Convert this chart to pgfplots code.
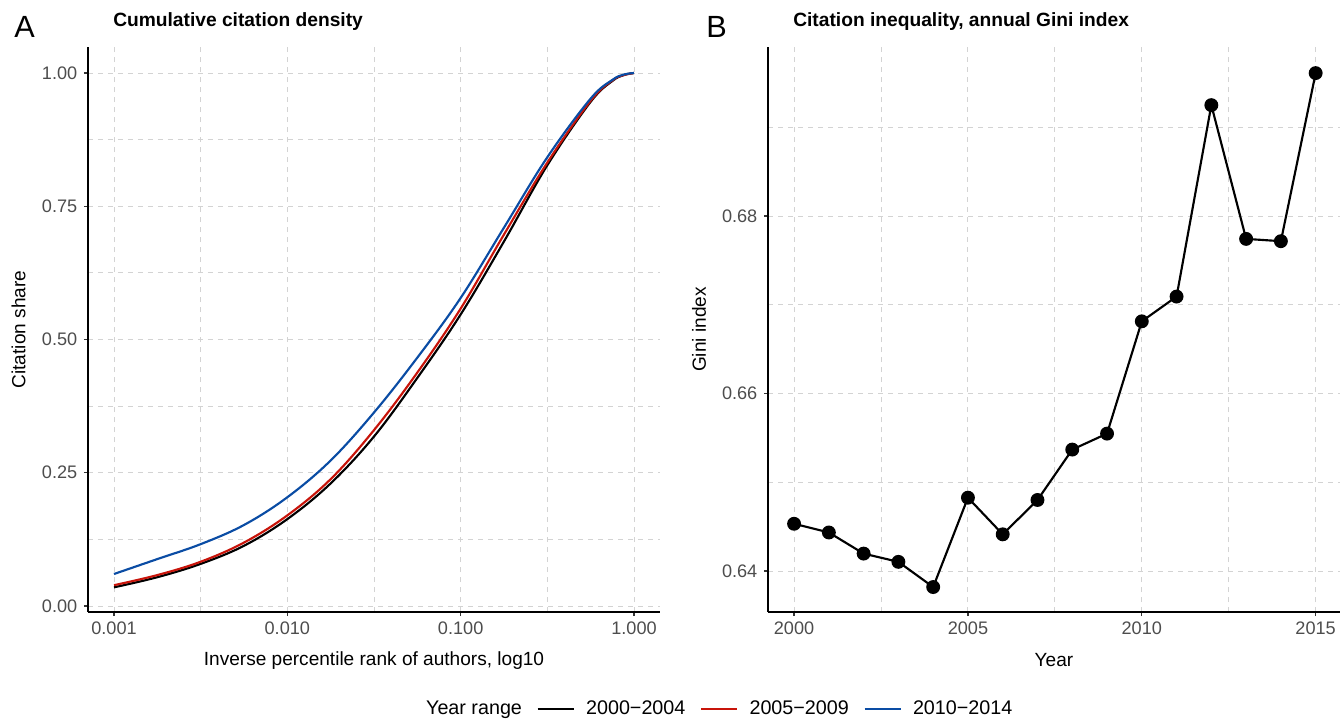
\documentclass[border=0pt]{standalone}
\usepackage{pgfplots}
\pgfplotsset{compat=1.18}
\usepackage{fontspec}
\setmainfont{Liberation Sans}
\definecolor{ggred}{HTML}{C8140A}
\definecolor{ggblue}{HTML}{0A4CA4}
\definecolor{tickgray}{HTML}{4D4D4D}
\definecolor{gridgray}{HTML}{D3D3D3}
\pgfplotsset{
  mystyle/.style={
    scale only axis, width=429pt, height=423.75pt,
    axis x line*=bottom, axis y line*=left,
    axis line style={line width=1.3pt, black, -},
    tick align=outside, major tick length=3pt, minor tick length=0pt,
    tick style={line width=1pt, color=black!80},
    grid=both,
    major grid style={gridgray, dash pattern=on 4pt off 3.5pt, line width=0.7pt},
    minor grid style={gridgray, dash pattern=on 4pt off 3.5pt, line width=0.7pt},
    xticklabel style={font=\fontsize{13.6}{15}\selectfont, text=tickgray, yshift=-1pt},
    yticklabel style={font=\fontsize{13.6}{15}\selectfont, text=tickgray, xshift=-1.5pt},
    label style={font=\fontsize{14.3}{16}\selectfont},
    /pgf/number format/assume math mode=true,
    clip=false,
  }
}
\begin{document}
\begin{tikzpicture}
\path[use as bounding box] (0,0) rectangle (1005pt,539.25pt);
% Panel A
\begin{axis}[mystyle, at={(66pt,80.25pt)}, anchor=south west,
  xmin=-3.15, xmax=0.15, ymin=-0.0113, ymax=1.0488,
  xtick={-3,-2,-1,0}, xticklabels={0.001,0.010,0.100,1.000},
  minor xtick={-2.5,-1.5,-0.5},
  ytick={0,0.25,0.5,0.75,1}, yticklabels={0.00,0.25,0.50,0.75,1.00},
  minor ytick={0.125,0.375,0.625,0.875},
  xlabel={Inverse percentile rank of authors, log10},
  ylabel={Citation share},
  xlabel style={at={(axis description cs:0.5,-0.0858)}, anchor=center},
  ylabel style={at={(axis description cs:-0.1215,0.5)}, anchor=center, rotate=0},
  legend columns=-1,
  legend style={at={(1.096,-0.1717)}, anchor=center, draw=none, fill=none,
    font=\fontsize{14.8}{16}\selectfont,
    /tikz/every odd column/.append style={column sep=6.5pt},
    /tikz/every even column/.append style={column sep=9pt},
    nodes={inner sep=2pt}},
  legend image code/.code={\draw[#1] (0pt,0pt) -- (27pt,0pt);},
]
\addlegendimage{empty legend}
\addlegendentry{Year range}
\addplot[black, line width=1.6pt, smooth, tension=0.6] coordinates {
(-3,0.035) (-2.75,0.054) (-2.5,0.079) (-2.25,0.113) (-2,0.163) (-1.75,0.230)
(-1.5,0.318) (-1.25,0.428) (-1,0.547) (-0.75,0.684) (-0.5,0.827) (-0.25,0.946)
(-0.125,0.985) (-0.06,0.996) (0,1.0)};
\addlegendentry{2000−2004}
\addplot[ggred, line width=1.6pt, smooth, tension=0.6] coordinates {
(-3,0.039) (-2.75,0.058) (-2.5,0.083) (-2.25,0.119) (-2,0.170) (-1.75,0.238)
(-1.5,0.330) (-1.25,0.438) (-1,0.558) (-0.75,0.697) (-0.5,0.832) (-0.25,0.948)
(-0.125,0.986) (-0.06,0.996) (0,1.0)};
\addlegendentry{2005−2009}
\addplot[ggblue, line width=1.6pt, smooth, tension=0.6] coordinates {
(-3,0.060) (-2.75,0.088) (-2.5,0.116) (-2.25,0.152) (-2,0.204) (-1.75,0.273)
(-1.5,0.363) (-1.25,0.466) (-1,0.578) (-0.75,0.710) (-0.5,0.842) (-0.25,0.952)
(-0.125,0.987) (-0.06,0.997) (0,1.0)};
\addlegendentry{2010−2014}
\end{axis}
% Panel B
\begin{axis}[mystyle, at={(576pt,80.25pt)}, anchor=south west,
  xmin=1999.25, xmax=2015.70, ymin=0.63538, ymax=0.69904,
  xtick={2000,2005,2010,2015}, xticklabels={2000,2005,2010,2015},
  minor xtick={2002.5,2007.5,2012.5},
  ytick={0.64,0.66,0.68}, yticklabels={0.64,0.66,0.68},
  minor ytick={0.65,0.67,0.69},
  xlabel={Year}, ylabel={Gini index},
  xlabel style={at={(axis description cs:0.5,-0.0858)}, anchor=center},
  ylabel style={at={(axis description cs:-0.1206,0.5)}, anchor=center, rotate=0},
]
\addplot[black, line width=1.6pt, mark=*, mark size=4.4pt, mark options={solid, fill=black}] coordinates {
(2000,0.64532) (2001,0.64434) (2002,0.64196) (2003,0.64103) (2004,0.63819)
(2005,0.64826) (2006,0.64413) (2007,0.64800) (2008,0.65368) (2009,0.65548)
(2010,0.66813) (2011,0.67092) (2012,0.69249) (2013,0.67742) (2014,0.67716)
(2015,0.69610)};
\end{axis}
% Panel letters and titles
\node[anchor=base west, inner sep=0pt, font=\fontsize{23}{26}\selectfont] at (10.5pt,510.75pt) {A};
\node[anchor=base west, inner sep=0pt, font=\fontsize{23}{26}\selectfont] at (529.5pt,510.75pt) {B};
\node[anchor=base west, inner sep=0pt, font=\bfseries\fontsize{14.4}{16}\selectfont] at (84.75pt,519pt) {Cumulative citation density};
\node[anchor=base west, inner sep=0pt, font=\bfseries\fontsize{14.4}{16}\selectfont] at (594.75pt,519pt) {Citation inequality, annual Gini index};
\end{tikzpicture}
\end{document}
